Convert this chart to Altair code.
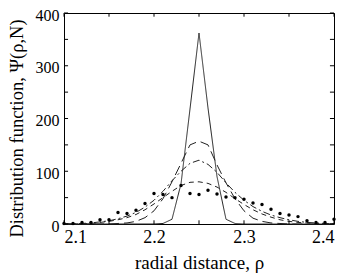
import altair as alt
import pandas as pd

# radial grid
rho = [2.10, 2.11, 2.12, 2.13, 2.14, 2.15, 2.16, 2.17, 2.18, 2.19, 2.20,
       2.21, 2.22, 2.23, 2.24, 2.25, 2.26, 2.27, 2.28, 2.29, 2.30,
       2.31, 2.32, 2.33, 2.34, 2.35, 2.36, 2.37, 2.38, 2.39, 2.40]

# solid curve (sharp peak)
psi_solid = [0, 0, 0, 0, 0, 0, 0, 0, 0, 0, 0,
             1, 9, 76, 218, 362, 220, 90, 9, 1, 0,
             0, 0, 0, 0, 0, 0, 0, 0, 0, 0]
# long dashed curve
psi_dash = [0, 0, 0, 0, 0, 0, 1, 2, 5, 12, 25,
            48, 80, 115, 150, 157, 150, 112, 78, 48, 25,
            11, 5, 2, 1, 0, 0, 0, 0, 0, 0]
# dash-dot curve
psi_dashdot = [0, 0, 1, 2, 4, 6, 10, 15, 22, 32, 45,
               62, 82, 100, 115, 121, 113, 98, 78, 60, 45,
               33, 24, 17, 12, 8, 5, 3, 2, 1, 0]
# short dashed curve
psi_short = [0, 0, 0, 1, 3, 5, 8, 12, 18, 27, 38,
             50, 62, 73, 79, 80, 77, 70, 60, 48, 37,
             27, 19, 13, 8, 5, 3, 2, 1, 0, 0]
# dotted (markers only)
psi_dots = [1, 1, 3, 3, 8, 8, 22, 20, 26, 39, 58,
            56, 50, 73, 58, 56, 64, 57, 51, 50, 47,
            40, 37, 28, 20, 17, 14, 6, 3, 3, 9]

x_ticks = [2.10, 2.15, 2.20, 2.25, 2.30, 2.35, 2.40]
x_labels = [2.1, 2.2, 2.3, 2.4]
y_ticks = [0, 50, 100, 150, 200, 250, 300, 350, 400]
y_labels = [0, 100, 200, 300, 400]

FONT = "Liberation Serif"

rows = []
for name, vals in [("solid", psi_solid), ("dash", psi_dash),
                   ("dashdot", psi_dashdot), ("short", psi_short)]:
    for r, v in zip(rho, vals):
        rows.append({"rho": r, "psi": v, "series": name})
lines_df = pd.DataFrame(rows)
dots_df = pd.DataFrame({"rho": rho, "psi": psi_dots})

xscale = alt.Scale(domain=[2.1, 2.4], nice=False, zero=False)
yscale = alt.Scale(domain=[0, 400], nice=False)

xaxis = alt.Axis(values=x_labels, format=".1f", ticks=False, grid=False,
                 domain=False, labelFont=FONT, labelFontSize=18,
                 labelColor="black", labelPadding=4, title="radial distance, ρ",
                 titleFont=FONT, titleFontSize=19, titleFontWeight="normal",
                 titleColor="black", titlePadding=7)
yaxis = alt.Axis(values=y_labels, ticks=False, grid=False, domain=False,
                 labelFont=FONT, labelFontSize=16, labelColor="black",
                 labelPadding=5, labelOffset=2,
                 title="Distribution function, Ψ(ρ,N)",
                 titleFont=FONT, titleFontSize=18.5, titleFontWeight="normal",
                 titleColor="black", titlePadding=9, titleY=115)

lines = alt.Chart(lines_df).mark_line(strokeWidth=1, color="#222").encode(
    x=alt.X("rho:Q", scale=xscale, axis=xaxis),
    y=alt.Y("psi:Q", scale=yscale, axis=yaxis),
    detail="series:N",
    strokeDash=alt.StrokeDash(
        "series:N",
        scale=alt.Scale(domain=["solid", "dash", "dashdot", "short"],
                        range=[[1, 0], [10, 5], [7, 3, 2, 3], [5, 4]]),
        legend=None),
)

dots = alt.Chart(dots_df).mark_circle(size=12, color="black", opacity=1).encode(
    x=alt.X("rho:Q", scale=xscale, axis=xaxis),
    y=alt.Y("psi:Q", scale=yscale, axis=yaxis),
)

xt = pd.DataFrame({"t": x_ticks})
yt = pd.DataFrame({"t": y_ticks})
tick_style = dict(color="black", strokeWidth=1)
ticks_bottom = alt.Chart(xt).mark_rule(**tick_style).encode(
    x=alt.X("t:Q", scale=xscale, axis=xaxis),
    y=alt.Y(datum=0, scale=yscale, axis=yaxis), y2=alt.Y2(datum=7))
ticks_top = alt.Chart(xt).mark_rule(**tick_style).encode(
    x=alt.X("t:Q", scale=xscale, axis=xaxis),
    y=alt.Y(datum=400, scale=yscale, axis=yaxis), y2=alt.Y2(datum=393))
ticks_left = alt.Chart(yt).mark_rule(**tick_style).encode(
    y=alt.Y("t:Q", scale=yscale, axis=yaxis),
    x=alt.X(datum=2.1, scale=xscale, axis=xaxis), x2=alt.X2(datum=2.1045))
ticks_right = alt.Chart(yt).mark_rule(**tick_style).encode(
    y=alt.Y("t:Q", scale=yscale, axis=yaxis),
    x=alt.X(datum=2.4, scale=xscale, axis=xaxis), x2=alt.X2(datum=2.3955))

chart = alt.layer(lines, dots, ticks_bottom, ticks_top, ticks_left, ticks_right).properties(
    width=270, height=211,
    autosize=alt.AutoSizeParams(type="none"),
    padding={"left": 56, "top": 5, "right": 5, "bottom": 50},
    background="white",
).configure_view(stroke="black", strokeWidth=1).configure_axis(
    labelFont=FONT, titleFont=FONT)

chart.save("out.html", embed_options={"renderer": "svg", "actions": False})
